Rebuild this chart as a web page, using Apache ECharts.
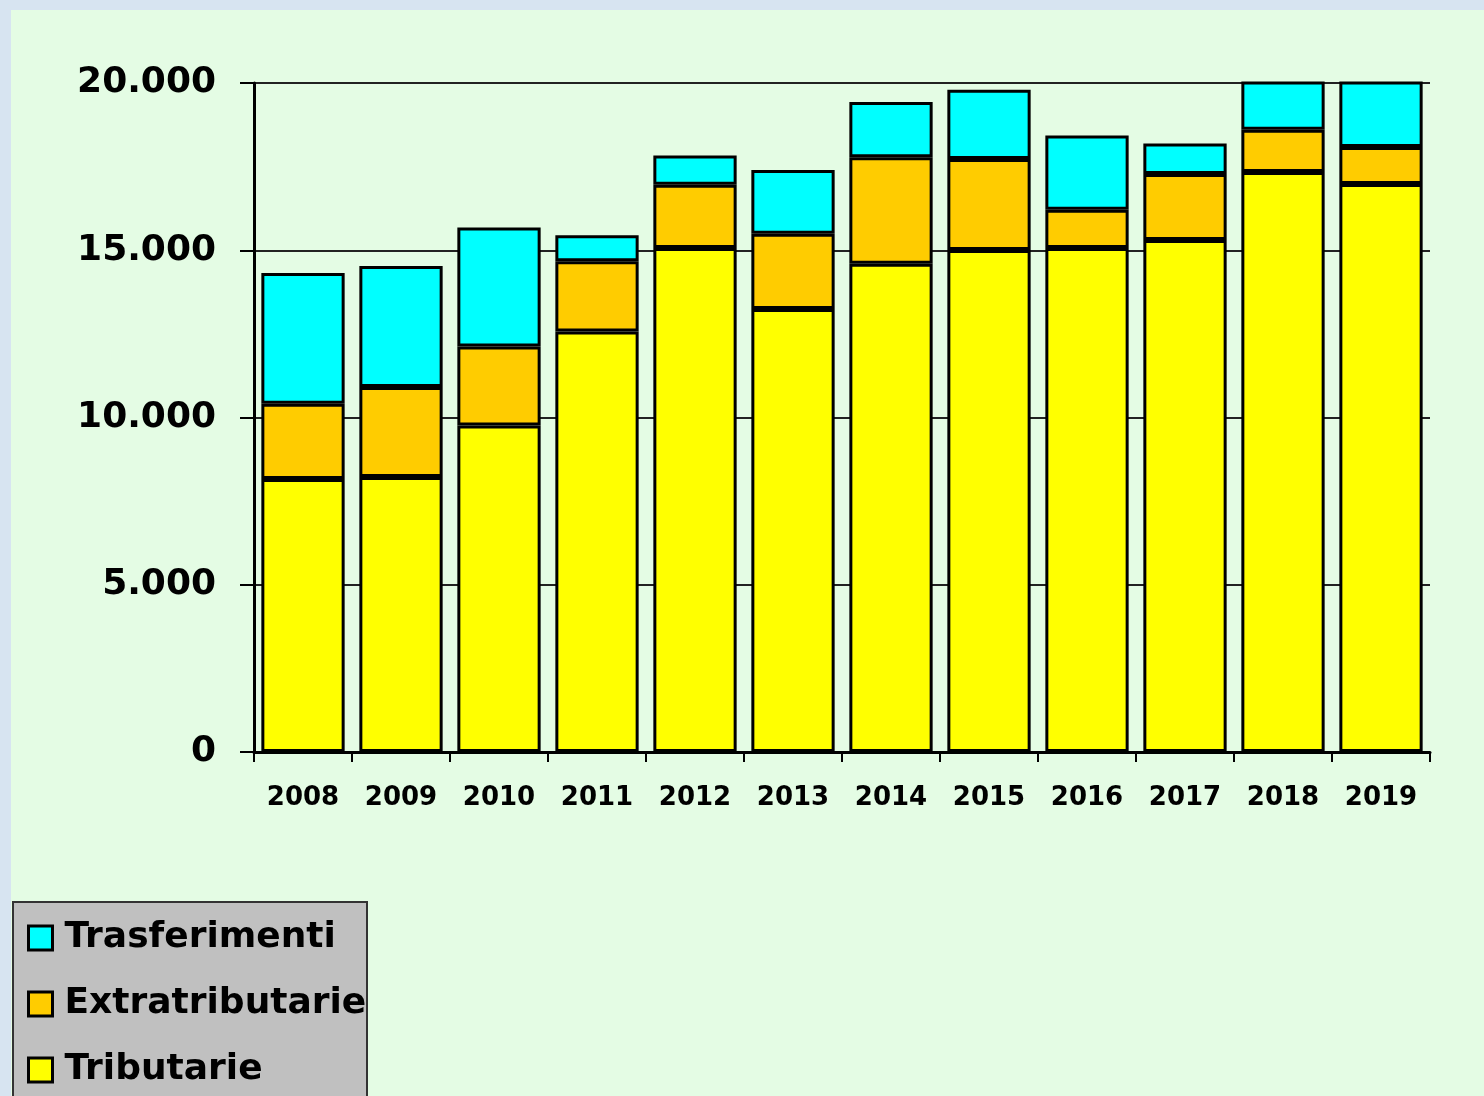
<!DOCTYPE html>
<html>
<head>
<meta charset="utf-8">
<script src="https://cdn.jsdelivr.net/npm/echarts@6/dist/echarts.min.js"></script>
<style>
  html, body { margin: 0; padding: 0; width: 1484px; height: 1096px; overflow: hidden;
    background: #D7E4F1; }
  #panel { position: absolute; left: 11px; top: 10px; width: 1473px; height: 1086px; background: #E4FCE4; }
  #chart { position: absolute; left: 0; top: 0; width: 1484px; height: 1096px; }
</style>
</head>
<body>
<div id="panel"></div>
<div id="chart"></div>
<script>
const years = ['2008','2009','2010','2011','2012','2013','2014','2015','2016','2017','2018','2019'];
const tributarie = [8160, 8220, 9760, 12570, 15070, 13240, 14600, 15010, 15070, 15310, 17340, 16980];
const extratributarie = [2250, 2690, 2360, 2100, 1890, 2250, 3180, 2720, 1140, 1970, 1260, 1110];
const trasferimenti = [3910, 3620, 3560, 780, 870, 1910, 1650, 2070, 2220, 910, 1800, 2300];
const yTicks = [0, 5000, 10000, 15000, 20000];
const legendNames = ['Trasferimenti', 'Extratributarie', 'Tributarie'];

const FONT = 'DejaVu Sans';
function fmt(v) { return String(v).replace(/\B(?=(\d{3})+(?!\d))/g, '.'); }

const chart = echarts.init(document.getElementById('chart'), null, { renderer: 'canvas' });
function seriesOf(name, data, color) {
  return {
    name: name, type: 'bar', stack: 'tot', data: data,
    barCategoryGap: '15%',
    itemStyle: { color: color, borderColor: '#000', borderWidth: 3 },
    emphasis: { disabled: true },
    clip: true
  };
}
chart.setOption({
  animation: false,
  backgroundColor: 'transparent',
  grid: { left: 254, right: 54, top: 83, bottom: 344, containLabel: false },
  graphic: [{
    type: 'rect', left: 12, top: 901, z: 0,
    shape: { width: 354, height: 220 },
    style: { fill: '#C0C0C0', stroke: '#333', lineWidth: 2 }
  }],
  xAxis: {
    type: 'category', data: years,
    axisLine: { lineStyle: { color: '#000', width: 3 } },
    axisTick: { show: true, length: 10, lineStyle: { color: '#000', width: 2 } },
    axisLabel: { margin: 33, color: '#000', fontFamily: FONT, fontWeight: 'bold', fontSize: 26 }
  },
  yAxis: {
    type: 'value', min: yTicks[0], max: yTicks[yTicks.length - 1], interval: 5000,
    axisLine: { show: true, lineStyle: { color: '#000', width: 3 } },
    axisTick: { show: true, length: 14, lineStyle: { color: '#000', width: 2 } },
    splitLine: { show: true, lineStyle: { color: '#222', width: 2 } },
    axisLabel: { margin: 38, color: '#000', fontFamily: FONT, fontWeight: 'bold', fontSize: 36,
      formatter: function (v) { return fmt(v); } }
  },
  legend: {
    orient: 'vertical', left: 12, top: 901,
    data: legendNames.map(function (n) { return { name: n, itemStyle: { borderWidth: 3, borderColor: '#000' } }; }),
    icon: 'rect',
    itemWidth: 24, itemHeight: 24, itemGap: 26,
    padding: [17, 0, 0, 15],
    selectedMode: false,
    textStyle: { color: '#000', fontFamily: FONT, fontWeight: 'bold', fontSize: 36, lineHeight: 40,
      padding: [0, 0, 0, 7] }
  },
  series: [
    seriesOf('Tributarie', tributarie, '#FFFF00'),
    seriesOf('Extratributarie', extratributarie, '#FFCC00'),
    seriesOf('Trasferimenti', trasferimenti, '#00FFFF')
  ]
});
</script>
</body>
</html>
